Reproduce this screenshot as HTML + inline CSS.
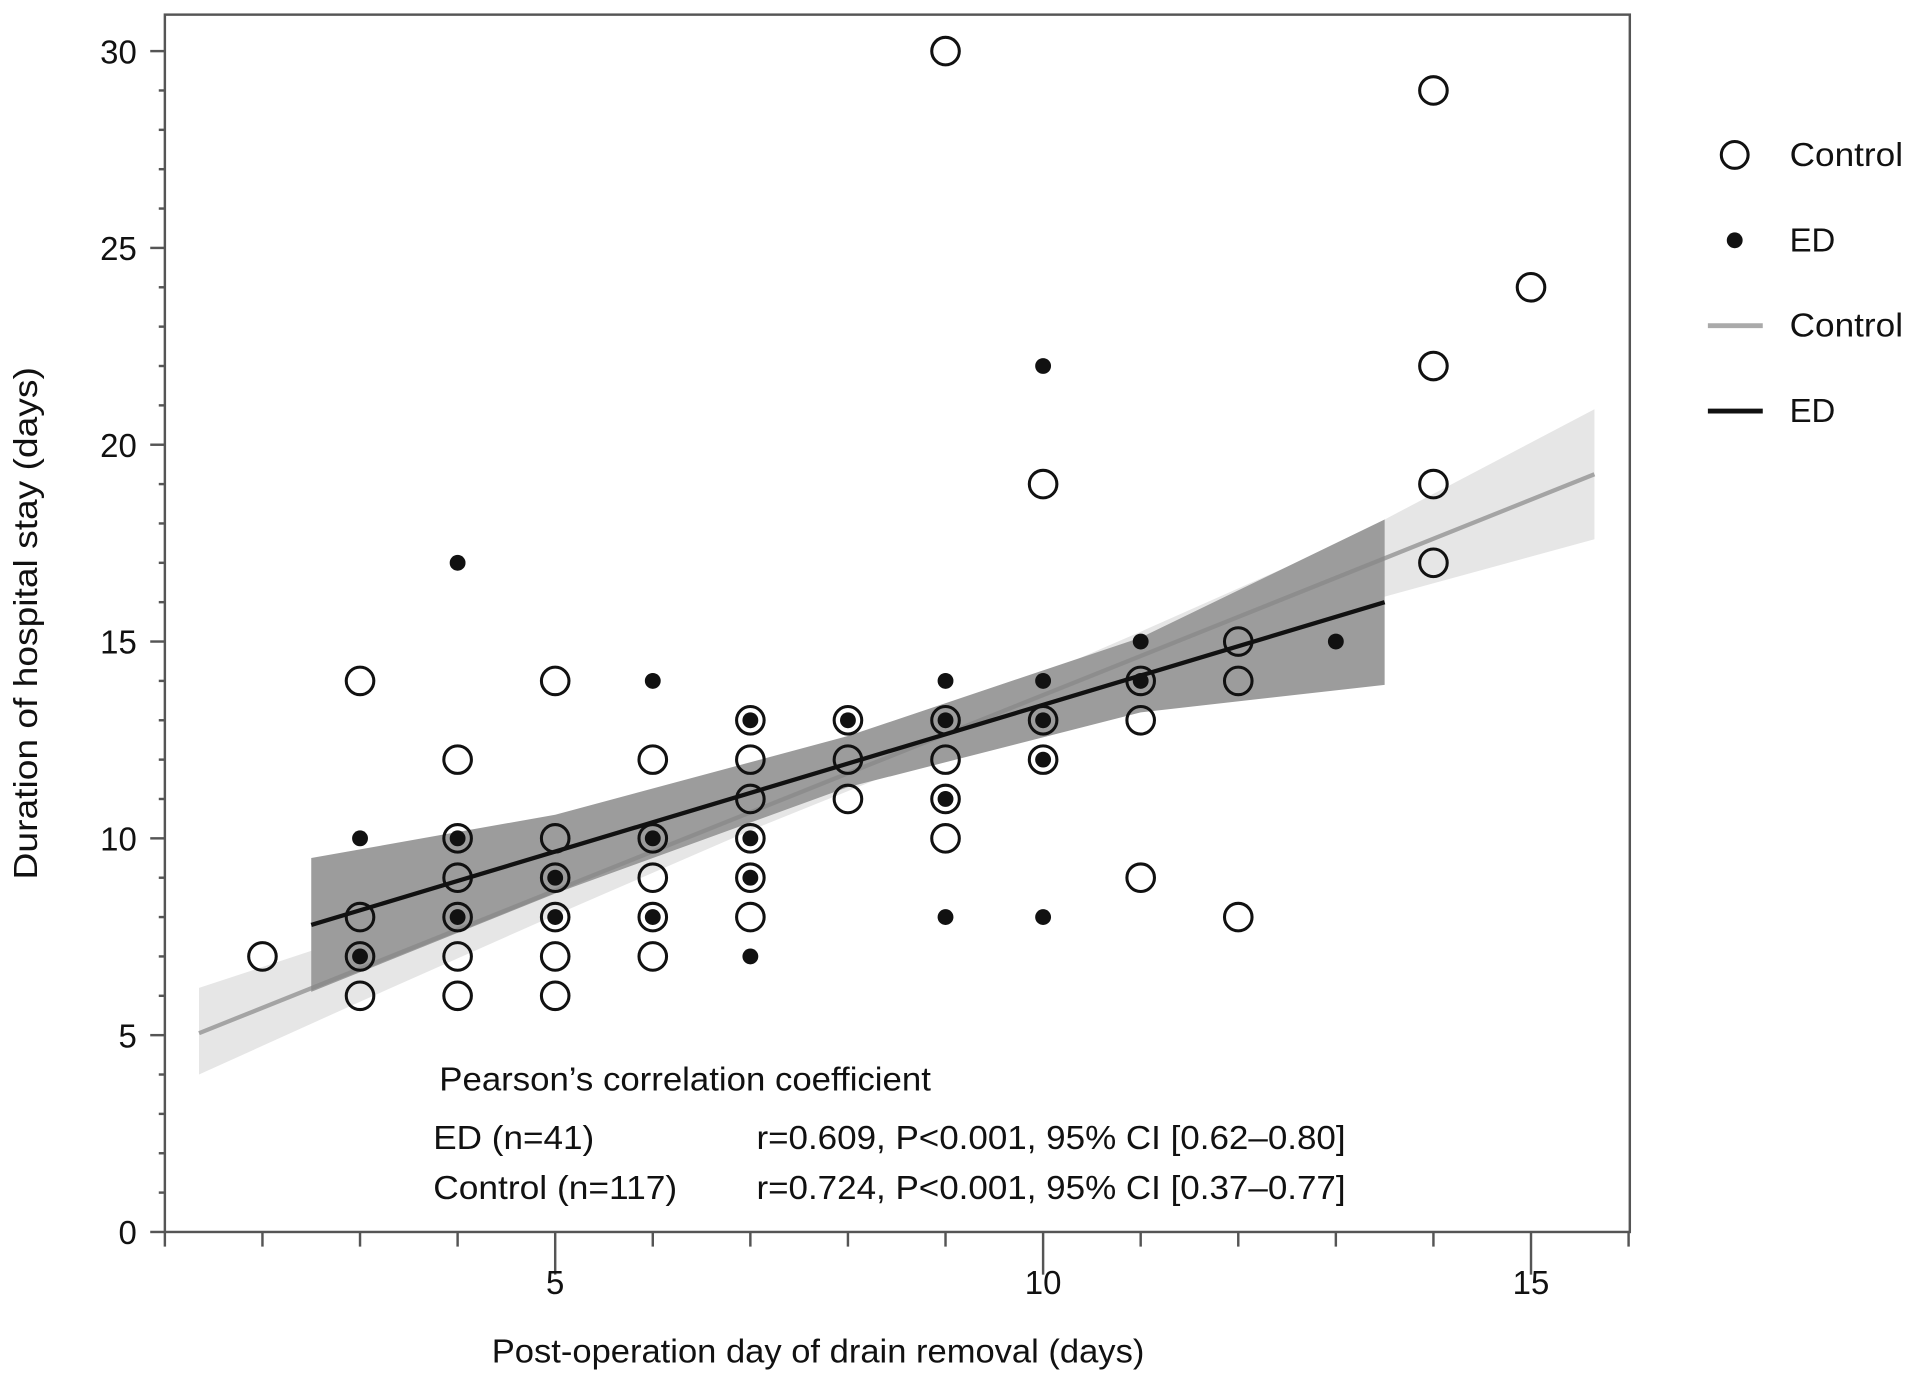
<!DOCTYPE html>
<html><head><meta charset="utf-8"><style>
html,body{margin:0;padding:0;background:#fff;}
svg{display:block;font-family:"Liberation Sans",Arial,sans-serif;}
</style></head><body>
<svg id="chart" width="1913" height="1382" viewBox="0 0 1568 1133" xmlns="http://www.w3.org/2000/svg">
<g id="bands"></g>
<g id="lines"></g>
<g id="points"></g>
<g id="axes"></g>
<rect x="135" y="12" width="1201" height="998" fill="none" stroke="#555" stroke-width="2"/>
<text transform="translate(30,511) rotate(-90)" text-anchor="middle" font-size="27" fill="#111" textLength="420" lengthAdjust="spacingAndGlyphs">Duration of hospital stay (days)</text>
<text x="403" y="1117" font-size="27" fill="#111" textLength="535" lengthAdjust="spacingAndGlyphs">Post-operation day of drain removal (days)</text>
<g font-size="27" fill="#111">
<text x="360" y="894" textLength="403" lengthAdjust="spacingAndGlyphs">Pearson’s correlation coefficient</text>
<text x="355" y="942" textLength="132" lengthAdjust="spacingAndGlyphs">ED (n=41)</text>
<text x="620" y="942" textLength="483" lengthAdjust="spacingAndGlyphs">r=0.609, P&lt;0.001, 95% CI [0.62–0.80]</text>
<text x="355" y="983" textLength="200" lengthAdjust="spacingAndGlyphs">Control (n=117)</text>
<text x="620" y="983" textLength="483" lengthAdjust="spacingAndGlyphs">r=0.724, P&lt;0.001, 95% CI [0.37–0.77]</text>
</g>
<g font-size="27" fill="#111">
<g><circle cx="1422" cy="127" r="11" fill="#fff" stroke="#111" stroke-width="2.5"/><text x="1467" y="136" textLength="93" lengthAdjust="spacingAndGlyphs">Control</text></g>
<g><circle cx="1422" cy="197" r="6.5" fill="#111"/><text x="1467" y="206">ED</text></g>
<g><line x1="1400" y1="267" x2="1445" y2="267" stroke="#aaa" stroke-width="4"/><text x="1467" y="276" textLength="93" lengthAdjust="spacingAndGlyphs">Control</text></g>
<g><line x1="1400" y1="337" x2="1445" y2="337" stroke="#111" stroke-width="4"/><text x="1467" y="346">ED</text></g>
</g>
</svg>
<script>
const controlX=[2,3,3,3,3,4,4,4,4,4,4,5,5,5,5,5,5,6,6,6,6,6,7,7,7,7,7,7,8,8,8,9,9,9,9,9,10,10,10,11,11,11,12,12,12,14,14,14,14,15];
const controlY=[7,14,8,7,6,12,10,9,8,7,6,14,10,9,8,7,6,12,10,9,8,7,13,12,11,10,9,8,13,12,11,30,13,12,11,10,19,13,12,14,13,9,15,14,8,29,22,19,17,24];
const edX=[3,3,4,4,4,5,5,6,6,6,7,7,7,7,8,9,9,9,9,10,10,10,10,10,11,11,13];
const edY=[10,7,17,10,8,9,8,14,10,8,13,10,9,7,13,14,13,11,8,22,14,13,12,8,15,14,15];
const controlLineX=[1.35,15.65];
const controlLineY=[5.05,19.25];
const controlBandX=[1.35,3,5,7,9,11,13,15.65];
const controlBandLo=[4.0,5.85,8.05,10.2,12.2,14.05,15.8,17.6];
const controlBandHi=[6.2,7.55,9.3,11.1,13.1,15.25,17.45,20.9];
const edLineX=[2.5,13.5];
const edLineY=[7.8,16.0];
const edBandX=[2.5,5,8,11,13.5];
const edBandLo=[6.1,8.6,11.3,13.2,13.9];
const edBandHi=[9.5,10.6,12.6,15.1,18.1];
const xTicks=[5,10,15];
const yTicks=[0,5,10,15,20,25,30];
const NS='http://www.w3.org/2000/svg';
function sx(v){return 135+(v-1)*80;}
function sy(v){return 1010-v*32.27;}
function mk(tag,attrs,parent){const e=document.createElementNS(NS,tag);for(const k in attrs)e.setAttribute(k,attrs[k]);parent.appendChild(e);return e;}
const bands=document.getElementById('bands'),lines=document.getElementById('lines'),pts=document.getElementById('points'),axes=document.getElementById('axes');
function bandPath(xs,lo,hi){let d='';xs.forEach((x,i)=>{d+=(i?'L':'M')+sx(x)+','+sy(hi[i]);});for(let i=xs.length-1;i>=0;i--)d+='L'+sx(xs[i])+','+sy(lo[i]);return d+'Z';}
let b1=mk('path',{d:bandPath(controlBandX,controlBandLo,controlBandHi),fill:'#e6e6e6'},bands);


let b2=mk('path',{d:bandPath(edBandX,edBandLo,edBandHi),fill:'#9c9c9c'},bands);


let l1=mk('line',{x1:sx(controlLineX[0]),y1:sy(controlLineY[0]),x2:sx(controlLineX[1]),y2:sy(controlLineY[1]),stroke:'#888','stroke-opacity':'0.7','stroke-width':3.5},lines);


let l2=mk('line',{x1:sx(edLineX[0]),y1:sy(edLineY[0]),x2:sx(edLineX[1]),y2:sy(edLineY[1]),stroke:'#111','stroke-width':3.5},lines);


controlX.forEach((x,i)=>{const c=mk('circle',{cx:sx(x),cy:sy(controlY[i]),r:11.3,fill:'none',stroke:'#111','stroke-width':2.5},pts);

});
edX.forEach((x,i)=>{const c=mk('circle',{cx:sx(x),cy:sy(edY[i]),r:6.5,fill:'#111'},pts);

});
for(let v=0;v<=30;v++){const major=v%5===0;const t=mk('line',{x1:135-(major?12:5),y1:sy(v),x2:135,y2:sy(v),stroke:'#555','stroke-width':2},axes);

}
yTicks.forEach(v=>{const t=mk('text',{x:112,y:sy(v)+10,'text-anchor':'end','font-size':27,fill:'#111'},axes);t.textContent=v;

});
for(let v=1;v<=16;v++){const major=v%5===0;const t=mk('line',{x1:sx(v),y1:1010,x2:sx(v),y2:1010+(major?35:12),stroke:'#555','stroke-width':2},axes);

}
xTicks.forEach(v=>{const t=mk('text',{x:sx(v),y:1061,'text-anchor':'middle','font-size':27,fill:'#111'},axes);t.textContent=v;

});
</script>
</body></html>
